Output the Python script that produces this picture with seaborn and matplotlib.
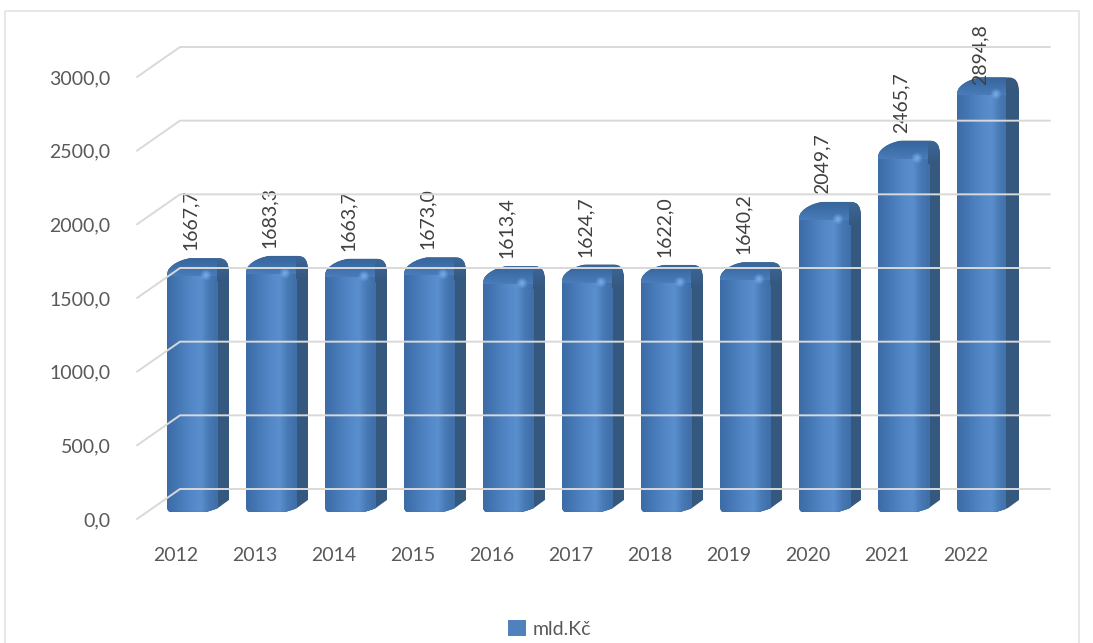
#!/usr/bin/env python3
import numpy as np
import pandas as pd
import seaborn as sns
import matplotlib.pyplot as plt
from matplotlib.path import Path
from matplotlib.patches import PathPatch, Patch, Polygon, Rectangle
from matplotlib.transforms import Affine2D
from matplotlib.colors import LinearSegmentedColormap

years = ["2012", "2013", "2014", "2015", "2016", "2017", "2018", "2019", "2020", "2021", "2022"]
values = [1667.7, 1683.3, 1663.7, 1673.0, 1613.4, 1624.7, 1622.0, 1640.2, 2049.7, 2465.7, 2894.8]
y_ticks = [0, 500, 1000, 1500, 2000, 2500, 3000]
series = "mld.Kč"

W, H = 1093, 643
TEXT = "#595959"
GRID = "#d9d9d9"

sns.set_theme(style="white")
plt.rcParams['font.family'] = ['Lato', 'DejaVu Sans']

fig = plt.figure(figsize=(W / 100, H / 100), dpi=100)
# plot box in picture pixels: left 137, right 1006, y=0 at 519, y=3000 at 77
ax = fig.add_axes([137 / W, (H - 519) / H, (1006 - 137) / W, (519 - 77) / H])
px = Affine2D().scale(1, -1).translate(0, H)   # picture pixels -> display
to_px = ax.transData + px.inverted()

df = pd.DataFrame({"year": years, "value": values})
# bars stand a little above the axis floor
sns.barplot(data=df, x="year", y="value", color="#4f81bd", width=51 / 79,
            bottom=48, saturation=1, ax=ax)

xlim = (-55.5 / 79, 10 + 813.5 / 79 - 10)
ax.set_xlim(-55.5 / 79, 813.5 / 79)
ax.set_ylim(0, 3000)
sns.despine(ax=ax, left=True, bottom=True)

ax.set_xticks(np.arange(len(years)) - 16.5 / 79, years)
ax.set_yticks(y_ticks, [f"{t:.1f}".replace(".", ",") for t in y_ticks])
ax.tick_params(axis="both", length=0, labelsize=14, labelcolor=TEXT)
ax.tick_params(axis="x", pad=20)
ax.tick_params(axis="y", pad=19)
ax.set_xlabel("")
ax.set_ylabel("")

# back wall grid and floor diagonals
for t in y_ticks:
    yp = to_px.transform((0, t))[1]
    fig.add_artist(plt.Line2D([137, 180, 1050], [yp, yp - 30, yp - 30], transform=px,
                              color=GRID, lw=1.4, zorder=0.5))

face = LinearSegmentedColormap.from_list("face", ["#3c6ca6", "#4375b2", "#4b7fbd", "#5488c8", "#5a8fce", "#4779b4", "#3f6ea8"])
cap = LinearSegmentedColormap.from_list("cap", ["#37659c", "#3f70aa", "#4a7cb9"])

def draw_bar(bar):
    (x0, top), (x1, base) = to_px.transform([(bar.get_x(), bar.get_y() + bar.get_height()),
                                             (bar.get_x() + bar.get_width(), bar.get_y())])
    d, h = 11, 8
    # outline with the rounded shoulders
    verts = [(x0, base - 6), (x0, top + 9), (x0, top - 3), (x0 + 20, top - h), (x0 + 24, top - h),
             (x1 + d - 10, top - h), (x1 + d, top - h), (x1 + d, top + 6), (x1 + d, base - 12),
             (x1, base - 4), (x1 - 4, base - 2), (x1 - 12, base), (x0 + 4, base), (x0, base), (x0, base - 6)]
    codes = [Path.MOVETO, Path.LINETO, Path.CURVE4, Path.CURVE4, Path.CURVE4,
             Path.LINETO, Path.CURVE3, Path.CURVE3, Path.LINETO,
             Path.LINETO, Path.CURVE3, Path.CURVE3, Path.LINETO, Path.CURVE3, Path.CURVE3]
    sil = PathPatch(Path(verts, codes), transform=px, fc="#35587f", ec="none", zorder=3)
    ax.add_patch(sil)
    sil.set_clip_on(False)
    bar.set_clip_path(sil)

    fy = top + 9
    body = ax.imshow(np.linspace(0, 1, 64)[None, :], extent=(x0, x1, base, fy), cmap=face,
                     aspect="auto", transform=px, zorder=3.1, interpolation="bilinear", origin="upper")
    body.set_clip_path(sil)
    upper = ax.imshow(np.linspace(0, 1, 32)[:, None], extent=(x0, x1 - 1, fy + 1, top - h), cmap=cap,
                      aspect="auto", transform=px, zorder=3.2, interpolation="bilinear", origin="upper")
    upper.set_clip_path(sil)
    # dark corner above the side face
    side = ax.imshow(np.linspace(0, 1, 32)[:, None], extent=(x1 - 1, x1 + d, fy + 6, top - h),
                     cmap=LinearSegmentedColormap.from_list("s", ["#3d6798", "#35587f"]),
                     aspect="auto", transform=px, zorder=3.2, interpolation="bilinear", origin="upper")
    side.set_clip_path(sil)
    # highlight
    gx, gy = np.meshgrid(np.linspace(-1, 1, 32), np.linspace(-1, 1, 32))
    glow = np.zeros((32, 32, 4))
    glow[..., :3] = (0.49, 0.70, 0.95)
    glow[..., 3] = np.clip(1 - np.hypot(gx, gy), 0, 1) * 0.95
    hx = x1 - 12
    hl = ax.imshow(glow, extent=(hx - 6, hx + 6, fy + 6, fy - 6), aspect="auto", transform=px,
                   zorder=3.3, interpolation="bilinear")
    hl.set_clip_path(sil)

for bar in ax.patches[:len(years)]:
    draw_bar(bar)

ax.set_xlim(-55.5 / 79, 813.5 / 79)
ax.set_ylim(0, 3000)

# value labels, the last one is kept inside the chart
for i, v in enumerate(values):
    yp = to_px.transform((i, v + 48))[1] - 16
    yp = max(yp, 85)
    ax.text(i - 2 / 79, 0, f"{v:.1f}".replace(".", ","), rotation=90, ha="center", va="bottom",
            fontsize=14, color="#404040", zorder=5,
            transform=ax.get_xaxis_transform() + Affine2D().translate(0, 519 - yp))

# outer chart frame
fig.add_artist(Rectangle((4.5, 10.5), 1074, 640, transform=px, fill=False, ec="#e3e3e3", lw=1.2))

leg = ax.legend(handles=[Patch(fc="#4f81bd", ec="none", label=series)], loc="center left",
                bbox_to_anchor=(0.465, 0.022), bbox_transform=fig.transFigure, frameon=False,
                handlelength=0.9, handleheight=0.9, handletextpad=0.35, fontsize=14, labelcolor=TEXT,
                borderpad=0, borderaxespad=0)

fig.savefig("out.png", dpi=100, facecolor="white")
